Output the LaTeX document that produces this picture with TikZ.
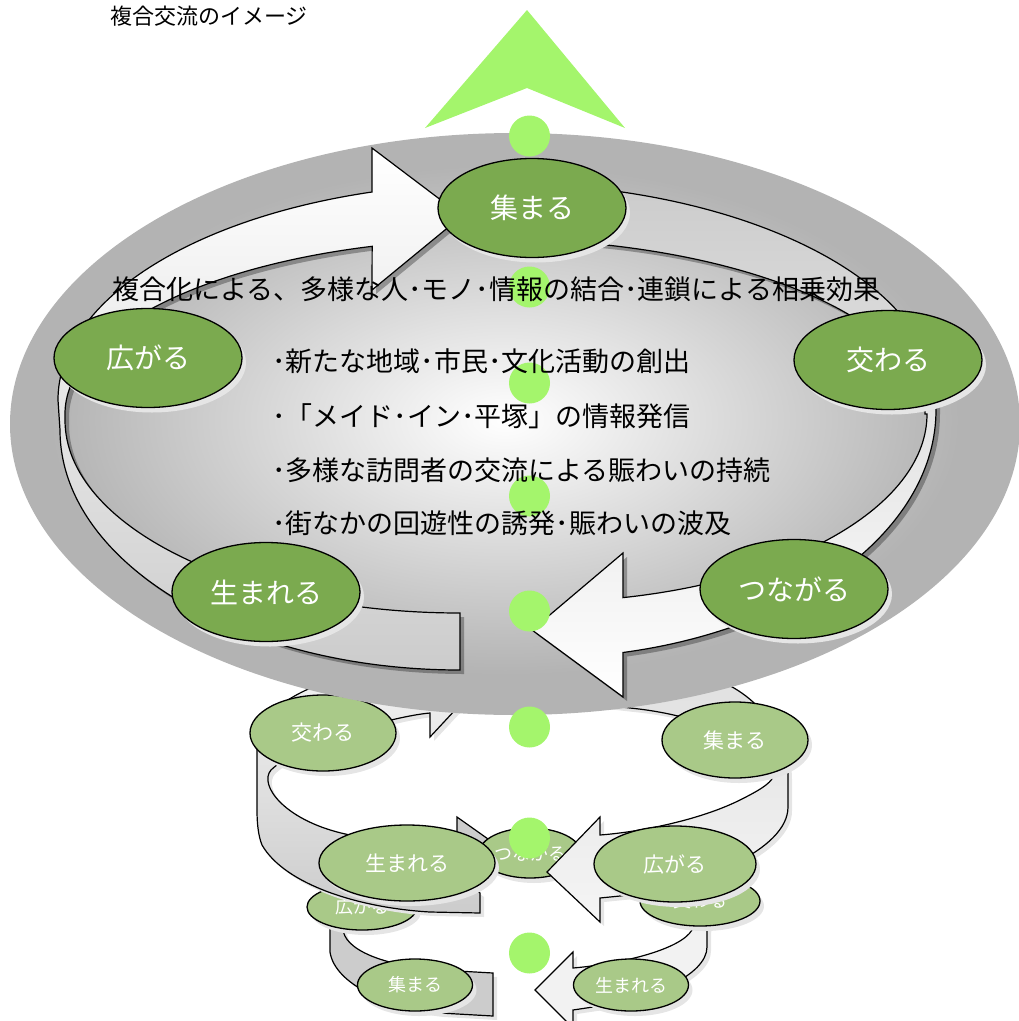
\documentclass[tikz,border=0pt]{standalone}
\usepackage{fontspec}
\newfontfamily\jp{Noto Sans CJK JP}
\usetikzlibrary{shapes.geometric, shadows, calc}

\definecolor{leafgreen}{RGB}{123,170,79}
\definecolor{palegreen}{RGB}{169,201,136}
\definecolor{spotgreen}{RGB}{164,245,108}
\definecolor{ringgray}{RGB}{179,179,179}
\definecolor{bandgray}{RGB}{204,204,204}

\tikzset{
  band/.style={draw=black, line width=1.2pt, line join=miter},
  deepshadow/.style={preaction={fill=black, fill opacity=0.3, transform canvas={xshift=4pt, yshift=-4pt}}},
  softshadow/.style={preaction={fill=black!10, transform canvas={xshift=4pt, yshift=-4pt}}},
  ringstep/.style={ellipse, draw=black, line width=1.3pt, inner sep=0pt, text=white,
    drop shadow={shadow xshift=4pt, shadow yshift=-5pt, fill=black!10, opacity=1}},
  bigstep/.style={ringstep, fill=leafgreen, minimum width=188pt, minimum height=99pt,
    font=\jp\fontsize{28pt}{28pt}\selectfont},
  midstep/.style={ringstep, fill=palegreen, minimum height=76pt, font=\jp\fontsize{21pt}{21pt}\selectfont},
  lowstep/.style={ringstep, fill=palegreen, minimum height=50pt, font=\jp\fontsize{18pt}{18pt}\selectfont},
  spot/.style={circle, fill=spotgreen, inner sep=0pt, minimum size=41pt},
  bodytext/.style={anchor=west, inner sep=0pt, font=\jp\fontsize{27pt}{27pt}\selectfont},
}

\begin{document}
\begin{tikzpicture}[x=1pt, y=-1pt]
\useasboundingbox (0,0) rectangle (1019,1021);

% lowest ring
\filldraw[band, softshadow, fill=bandgray]
  (493,1016) -- (440,1013)
  .. controls (390,1008) and (335,985) .. (330,952)
  -- (330,930)
  .. controls (330,895) and (360,862) .. (410,842)
  -- (457,834) -- (457,817) -- (505,851) -- (457,885) -- (457,868)
  .. controls (400,872) and (343,900) .. (343,928)
  .. controls (343,950) and (385,966) .. (440,970)
  -- (493,973) -- cycle;
\filldraw[band, softshadow, fill=black!5]
  (535,990) -- (573,952) -- (573,968)
  .. controls (620,964) and (680,950) .. (692,930)
  -- (690,890) -- (712,890) -- (707,930) -- (707,947)
  .. controls (707,975) and (650,1000) .. (593,1007)
  -- (573,1010) -- (573,1028) -- cycle;

\node[lowstep, minimum width=100pt] (link3) at (530,853) {つながる};
\node[lowstep, minimum width=110pt, minimum height=46pt] (spread3) at (362,907) {広がる};
\node[lowstep, minimum width=120pt] (cross3) at (700,901) {交わる};
\node[lowstep, minimum width=115pt, minimum height=52pt] (gather3) at (415,985) {集まる};
\node[lowstep, minimum width=115pt, minimum height=52pt] (born3) at (631,985) {生まれる};

% middle ring
\shadedraw[band, softshadow, top color=black!4, bottom color=bandgray]
  (480,913) -- (430,912)
  .. controls (360,908) and (285,885) .. (262,845)
  .. controls (258,835) and (257,822) .. (257,810)
  -- (257,750)
  .. controls (257,722) and (275,702) .. (320,684)
  -- (430,672) -- (430,655) -- (470,694) -- (430,737) -- (430,713)
  .. controls (395,716) and (300,742) .. (271,770)
  .. controls (258,785) and (285,822) .. (350,835)
  .. controls (410,848) and (455,875) .. (480,893)
  -- cycle;
\shadedraw[band, softshadow, top color=black!12, bottom color=black!4]
  (547,872) -- (600,817) -- (600,835)
  .. controls (640,832) and (700,820) .. (740,800)
  .. controls (758,791) and (770,784) .. (773,777)
  .. controls (760,740) and (700,715) .. (630,708)
  -- (560,700) -- (560,675) -- (700,675)
  .. controls (750,685) and (788,730) .. (788,775)
  -- (788,807)
  .. controls (788,850) and (700,885) .. (630,895)
  -- (600,898) -- (600,922) -- cycle;

\node[midstep, minimum width=146pt] (cross2) at (323,733) {交わる};
\node[midstep, minimum width=146pt] (gather2) at (735,740) {集まる};
\node[midstep, minimum width=176pt] (born2) at (407,863) {生まれる};
\node[midstep, minimum width=162pt] (spread2) at (675,864) {広がる};

% big ring
\fill[ringgray] (515,424) ellipse[x radius=505, y radius=291];
\shade[inner color=white, outer color=ringgray] (505,420) ellipse[x radius=455, y radius=255];

\coordinate (upO) at (497,400);
\coordinate (upI) at (495,414);
\coordinate (lowOA) at (460,430);
\coordinate (lowIA) at (460,420);
\coordinate (lowOB) at (540,410);
\coordinate (lowIB) at (540,414);

\shadedraw[band, deepshadow, top color=white, middle color=black!8, bottom color=bandgray]
  ($(lowOA)+(90:400 and 240)$) arc[start angle=90, end angle=180, x radius=400, y radius=240]
  -- ($(upO)+(180:439 and 217)$) arc[start angle=180, end angle=253.46, x radius=439, y radius=217]
  -- (372,148) -- (462,216) -- (372,290)
  -- ($(upI)+(253.4:430 and 175)$) arc[start angle=253.4, end angle=180, x radius=430, y radius=175]
  -- ($(lowIA)+(180:395 and 193)$) arc[start angle=180, end angle=90, x radius=395, y radius=193]
  -- cycle;
\shadedraw[band, deepshadow, top color=bandgray, middle color=black!3, bottom color=white]
  ($(upO)+(278.25:439 and 217)$) arc[start angle=278.25, end angle=360, x radius=439, y radius=217]
  -- ($(lowOB)+(0:396 and 248)$) arc[start angle=0, end angle=77.9, x radius=396, y radius=248]
  -- (623,697) -- (532,630) -- (623,553)
  -- ($(lowIB)+(77.6:387 and 188)$) arc[start angle=77.6, end angle=0, x radius=387, y radius=188]
  -- ($(upI)+(0:430 and 175)$) arc[start angle=360, end angle=278.7, x radius=430, y radius=175]
  -- cycle;

\node[bigstep] (gather) at (532,208) {集まる};
\node[bigstep] (spread) at (148,358) {広がる};
\node[bigstep] (cross) at (888,360) {交わる};
\node[bigstep] (born) at (266,592) {生まれる};
\node[bigstep] (link) at (794,589) {つながる};

\foreach \y [count=\i] in {136,287,383,496,611,727,838,953}
  \node[spot] (spot\i) at (529.5,\y) {};

\node[bodytext] (effect) at (112,289) {複合化による、多様な人･モノ･情報の結合･連鎖による相乗効果};
\node[bodytext] (item1) at (272,361) {･新たな地域･市民･文化活動の創出};
\node[bodytext] (item2) at (272,416) {･「メイド･イン･平塚」の情報発信};
\node[bodytext] (item3) at (272,470) {･多様な訪問者の交流による賑わいの持続};
\node[bodytext] (item4) at (272,523) {･街なかの回遊性の誘発･賑わいの波及};

\fill[spotgreen] (527,10) -- (625,128) -- (527,88) -- (425,128) -- cycle;
\node[anchor=west, inner sep=0pt, font=\jp\fontsize{22pt}{22pt}\selectfont] (title) at (110,16) {複合交流のイメージ};
\end{tikzpicture}
\end{document}
